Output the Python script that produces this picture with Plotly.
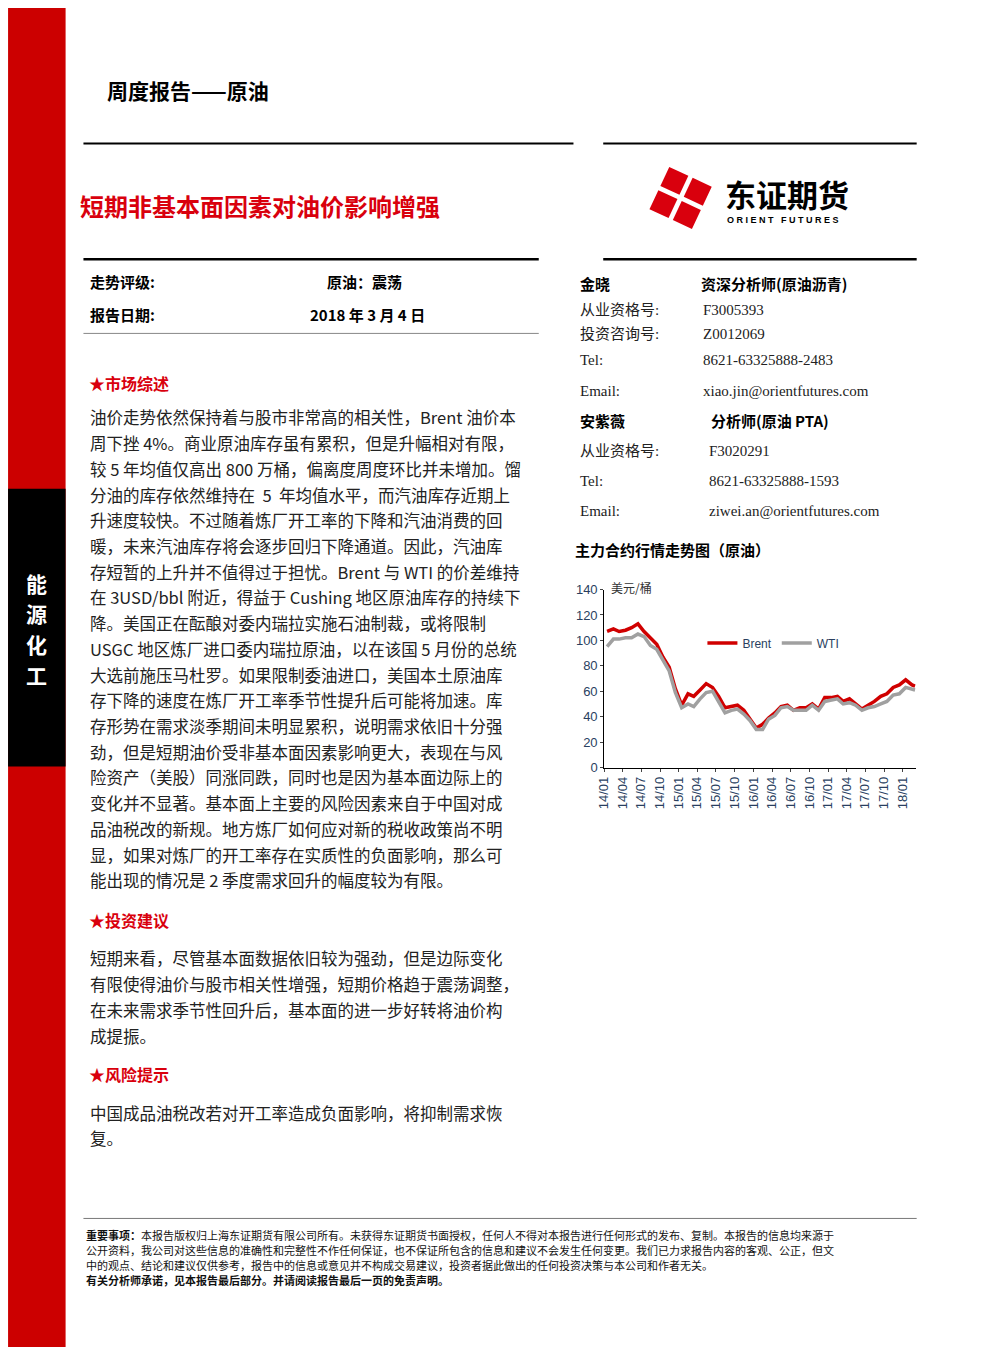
import plotly.graph_objects as go
import math

W, H = 992, 1347
months = ["2014-01-15","2014-02-15","2014-03-15","2014-04-15","2014-05-15","2014-06-15","2014-07-15","2014-08-15","2014-09-15","2014-10-15","2014-11-15","2014-12-15",
          "2015-01-15","2015-02-15","2015-03-15","2015-04-15","2015-05-15","2015-06-15","2015-07-15","2015-08-15","2015-09-15","2015-10-15","2015-11-15","2015-12-15",
          "2016-01-15","2016-02-15","2016-03-15","2016-04-15","2016-05-15","2016-06-15","2016-07-15","2016-08-15","2016-09-15","2016-10-15","2016-11-15","2016-12-15",
          "2017-01-15","2017-02-15","2017-03-15","2017-04-15","2017-05-15","2017-06-15","2017-07-15","2017-08-15","2017-09-15","2017-10-15","2017-11-15","2017-12-15",
          "2018-01-15","2018-02-15","2018-03-02"]
brent = [107,109,107,108,110,113,107,102,97,87,79,62,
         49,58,56,61,66,63,56,47,48,49,45,38,
         31,34,39,43,48,49,45,47,47,50,46,55,
         55,56,52,54,50,46,49,52,56,58,63,65,
         69,65,64]
wti = [95,101,101,102,102,105,103,96,93,84,76,59,
       47,50,48,54,59,60,51,43,45,46,42,37,
       30,30,38,41,47,48,45,45,45,49,45,52,
       53,54,50,51,49,45,47,48,50,52,57,58,
       63,62,61]
tickvals = ["2014-01-01","2014-04-01","2014-07-01","2014-10-01","2015-01-01","2015-04-01","2015-07-01","2015-10-01",
            "2016-01-01","2016-04-01","2016-07-01","2016-10-01","2017-01-01","2017-04-01","2017-07-01","2017-10-01","2018-01-01"]
ticktext = ["14/01","14/04","14/07","14/10","15/01","15/04","15/07","15/10","16/01","16/04","16/07","16/10","17/01","17/04","17/07","17/10","18/01"]

RED = "#d9000d"
CJK = "Noto Sans CJK SC"
OFF = 8  # page is rendered with an 8px offset

def px(x): return (x - OFF) / W
def py(y): return 1 - (y - OFF) / H

fig = go.Figure()
fig.add_trace(go.Scatter(x=months, y=brent, name="Brent", mode="lines", line=dict(color="#d00000", width=3.5)))
fig.add_trace(go.Scatter(x=months, y=wti, name="WTI", mode="lines", line=dict(color="#a0a0a0", width=3.5)))

ann = []
def T(x, y, text, size=16, color="black", bold=False, font=CJK, anchor="left"):
    if bold: text = "<b>" + text + "</b>"
    ann.append(dict(x=px(x), y=py(y), xref="paper", yref="paper", text=text, showarrow=False,
                    xanchor=anchor, yanchor="middle", font=dict(size=size, color=color, family=font)))

T(98, 84, "周度报告——原油", 21, bold=True)
T(70, 201, "短期非基本面因素对油价影响增强", 24, RED, bold=True)
T(721, 189, "东证期货", 31, bold=True)
T(723, 215, "O R I E N T   F U T U R E S", 9, bold=True, font="Liberation Sans")

T(81, 278, "走势评级:", 15, bold=True); T(320, 278, "原油：震荡", 15, bold=True)
T(81, 311, "报告日期:", 15, bold=True); T(302, 311, "2018 年 3 月 4 日", 15, bold=True)

T(80, 380, "★市场综述", 16, RED, bold=True)
body = ["油价走势依然保持着与股市非常高的相关性，Brent 油价本",
"周下挫 4%。商业原油库存虽有累积，但是升幅相对有限，",
"较 5 年均值仅高出 800 万桶，偏离度周度环比并未增加。馏",
"分油的库存依然维持在  5  年均值水平，而汽油库存近期上",
"升速度较快。不过随着炼厂开工率的下降和汽油消费的回",
"暖，未来汽油库存将会逐步回归下降通道。因此，汽油库",
"存短暂的上升并不值得过于担忧。Brent 与 WTI 的价差维持",
"在 3USD/bbl 附近，得益于 Cushing 地区原油库存的持续下",
"降。美国正在酝酿对委内瑞拉实施石油制裁，或将限制",
"USGC 地区炼厂进口委内瑞拉原油，以在该国 5 月份的总统",
"大选前施压马杜罗。如果限制委油进口，美国本土原油库",
"存下降的速度在炼厂开工率季节性提升后可能将加速。库",
"存形势在需求淡季期间未明显累积，说明需求依旧十分强",
"劲，但是短期油价受非基本面因素影响更大，表现在与风",
"险资产（美股）同涨同跌，同时也是因为基本面边际上的",
"变化并不显著。基本面上主要的风险因素来自于中国对成",
"品油税改的新规。地方炼厂如何应对新的税收政策尚不明",
"显，如果对炼厂的开工率存在实质性的负面影响，那么可",
"能出现的情况是 2 季度需求回升的幅度较为有限。"]
for i, l in enumerate(body):
    T(81, 415 + 26 * i, l, 16.5, "#222")
T(80, 923, "★投资建议", 16, RED, bold=True)
for i, l in enumerate(["短期来看，尽管基本面数据依旧较为强劲，但是边际变化",
                       "有限使得油价与股市相关性增强，短期价格趋于震荡调整，",
                       "在未来需求季节性回升后，基本面的进一步好转将油价构",
                       "成提振。"]):
    T(81, 962 + 26 * i, l, 16.5, "#222")
T(80, 1079, "★风险提示", 16, RED, bold=True)
for i, l in enumerate(["中国成品油税改若对开工率造成负面影响，将抑制需求恢", "复。"]):
    T(81, 1118 + 26 * i, l, 16.5, "#222")

# right column
T(575, 280, "金晓", 15, bold=True); T(697, 280, "资深分析师(原油沥青)", 15, bold=True)
rows = [(306, "从业资格号:", 699, "F3005393"), (331, "投资咨询号:", 699, "Z0012069"),
        (357, "Tel:", 699, "8621-63325888-2483"), (388, "Email:", 699, "xiao.jin@orientfutures.com"),
        (449, "从业资格号:", 705, "F3020291"), (479, "Tel:", 705, "8621-63325888-1593"),
        (510, "Email:", 705, "ziwei.an@orientfutures.com")]
for y, a, x2, b in rows:
    T(575, y, a, 15, "#222", font="Liberation Serif, " + CJK)
    T(x2, y, b, 15, "#222", font="Liberation Serif")
T(575, 418, "安紫薇", 15, bold=True); T(707, 418, "分析师(原油 PTA)", 15, bold=True)
T(570, 549, "主力合约行情走势图（原油）", 15, bold=True)
T(606, 587, "美元/桶", 12, "#333")

# side label
for i, c in enumerate("能源化工"):
    T(29, 582 + 31 * i, c, 21, "white", bold=True, anchor="center")

foot = ["<b>重要事项：</b>本报告版权归上海东证期货有限公司所有。未获得东证期货书面授权，任何人不得对本报告进行任何形式的发布、复制。本报告的信息均来源于",
        "公开资料，我公司对这些信息的准确性和完整性不作任何保证，也不保证所包含的信息和建议不会发生任何变更。我们已力求报告内容的客观、公正，但文",
        "中的观点、结论和建议仅供参考，报告中的信息或意见并不构成交易建议，投资者据此做出的任何投资决策与本公司和作者无关。",
        "<b>有关分析师承诺，见本报告最后部分。并请阅读报告最后一页的免责声明。</b>"]
for i, l in enumerate(foot):
    T(77, 1242 + 15 * i, l, 11, "#111")

shapes = []
def R(x0, y0, x1, y1, color):
    shapes.append(dict(type="rect", xref="paper", yref="paper", x0=px(x0), x1=px(x1), y0=py(y1), y1=py(y0),
                       fillcolor=color, line=dict(width=0), layer="below"))
def L(x0, y0, x1, y1, color, w):
    shapes.append(dict(type="line", xref="paper", yref="paper", x0=px(x0), x1=px(x1), y0=py(y0), y1=py(y1),
                       line=dict(color=color, width=w)))
R(0, 0, 58, H + 10, "#cc0000")
R(0, 487, 58, 768, "black")
L(76, 138, 570, 138, "black", 2); L(600, 138, 916, 138, "black", 2)
L(76, 255, 535, 255, "black", 2.5); L(600, 255, 916, 255, "black", 2.5)
L(76, 330, 535, 330, "#888", 1)
L(76, 1225, 916, 1225, "#555", 0.8)

# logo
cx, cy = 678, 193
def sq(qx, qy, s, ang):
    pts = []
    for k in range(4):
        a = ang + math.pi / 4 + k * math.pi / 2
        pts.append((qx + s * math.cos(a), qy + s * math.sin(a)))
    return "M " + " L ".join(f"{px(x):.5f},{py(y):.5f}" for x, y in pts) + " Z"
ang = math.radians(25)
for dx, dy in [(-1, -1), (1, -1), (1, 1), (-1, 1)]:
    ox = dx * math.cos(ang) * 13 - dy * math.sin(ang) * 13
    oy = dx * math.sin(ang) * 13 + dy * math.cos(ang) * 13
    shapes.append(dict(type="path", xref="paper", yref="paper", path=sq(cx + ox, cy + oy, 15, ang),
                       fillcolor=RED, line=dict(width=0)))

fig.update_layout(
    width=W, height=H, margin=dict(l=0, r=0, t=0, b=0), paper_bgcolor="white", plot_bgcolor="white",
    showlegend=True,
    legend=dict(orientation="h", x=px(700), y=py(643), xanchor="left", yanchor="middle",
                font=dict(size=12, family="Liberation Sans"), bgcolor="rgba(0,0,0,0)", itemwidth=30),
    xaxis=dict(domain=[px(601), px(915)], range=["2014-01-01", "2018-03-05"], tickvals=tickvals, ticktext=ticktext,
               tickangle=-90, showgrid=False, showline=True, linecolor="black", linewidth=1, ticks="outside", ticklen=3,
               tickfont=dict(size=13, family="Liberation Sans")),
    yaxis=dict(domain=[py(769), py(589)], range=[0, 140], dtick=20, showgrid=False, showline=True, linecolor="black",
               linewidth=1, ticks="outside", ticklen=3, tickfont=dict(size=13, family="Liberation Sans"), zeroline=False),
    annotations=ann, shapes=shapes,
)
fig.write_html("out.html", config={"displayModeBar": False})
